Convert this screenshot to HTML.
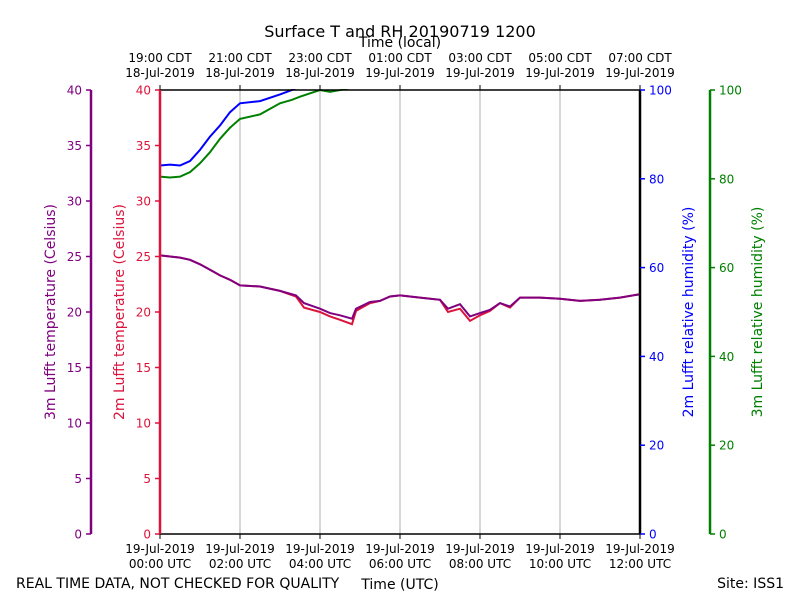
<!DOCTYPE html>
<html><head><meta charset="utf-8"><style>
body{margin:0;background:#fff}
text{font-family:"DejaVu Sans","Liberation Sans",sans-serif;font-size:12px}
</style></head><body>
<svg id="c" width="800" height="600" xmlns="http://www.w3.org/2000/svg">
<defs><clipPath id="pa"><rect x="160" y="89" width="480" height="446"/></clipPath></defs>
<g id="grid"></g><g id="series" clip-path="url(#pa)"></g><g id="axes"></g>
</svg>
<script>
const tT=[0,0.25,0.5,0.75,1,1.25,1.5,1.75,2,2.5,3,3.4,3.6,4,4.25,4.5,4.8,4.9,5.25,5.5,5.75,6,6.5,7,7.2,7.5,7.75,8,8.25,8.5,8.75,9,9.5,10,10.5,11,11.5,12];
const temp3m=[25.1,25.0,24.9,24.7,24.3,23.8,23.3,22.9,22.4,22.3,21.9,21.5,20.8,20.3,19.9,19.7,19.4,20.3,20.9,21.0,21.4,21.5,21.3,21.1,20.3,20.7,19.6,19.9,20.2,20.8,20.5,21.3,21.3,21.2,21.0,21.1,21.3,21.6];
const temp2m=[25.1,25.0,24.9,24.7,24.3,23.8,23.3,22.9,22.4,22.3,21.9,21.4,20.4,20.0,19.6,19.3,18.9,20.1,20.8,21.0,21.4,21.5,21.3,21.1,20.0,20.3,19.2,19.7,20.1,20.8,20.4,21.3,21.3,21.2,21.0,21.1,21.3,21.6];
const tRH=[0,0.25,0.5,0.75,1,1.25,1.5,1.75,2,2.5,3,3.3,3.5,4,4.25,4.5,5,6,8,10,12];
const rh2m=[83,83.2,83,84,86.5,89.5,92,95,97,97.5,99,100,101,102,103,103,104,104,104,104,104];
const rh3m=[80.5,80.3,80.5,81.5,83.5,86,89,91.5,93.5,94.5,97,97.8,98.5,100,99.6,100,101,102,102,102,102];
const tempTicks=[0,5,10,15,20,25,30,35,40];
const rhTicks=[0,20,40,60,80,100];
const utcLabels=["00:00 UTC","02:00 UTC","04:00 UTC","06:00 UTC","08:00 UTC","10:00 UTC","12:00 UTC"];
const cdtLabels=[["19:00 CDT","18-Jul-2019"],["21:00 CDT","18-Jul-2019"],["23:00 CDT","18-Jul-2019"],["01:00 CDT","19-Jul-2019"],["03:00 CDT","19-Jul-2019"],["05:00 CDT","19-Jul-2019"],["07:00 CDT","19-Jul-2019"]];
const X=h=>160+h*40, YT=v=>534-v*11.1, YR=v=>534-v*4.44;
const NS="http://www.w3.org/2000/svg";
function el(p,tag,a,txt){const e=document.createElementNS(NS,tag);for(const k in a)e.setAttribute(k,a[k]);if(txt!==undefined)e.textContent=txt;document.getElementById(p).appendChild(e);return e;}
// grid
for(let i=1;i<6;i++){const g=el('grid','line',{x1:X(i*2),x2:X(i*2),y1:90,y2:534,stroke:'#b0b0b0','stroke-width':1});

}
function line(ts,vs,Y,col,name){const d=ts.map((t,i)=>(i?'L':'M')+X(t).toFixed(1)+','+Y(vs[i]).toFixed(1)).join('');
const p=el('series','path',{d:d,fill:'none',stroke:col,'stroke-width':2});

}
line(tRH,rh3m,YR,'green','rh-3m-line');
line(tRH,rh2m,YR,'blue','rh-2m-line');
line(tT,temp2m,YT,'crimson','temp-2m-line');
line(tT,temp3m,YT,'purple','temp-3m-line');
// frame
el('axes','line',{x1:160,x2:640,y1:90,y2:90,stroke:'#000','stroke-width':1.5});
el('axes','line',{x1:160,x2:640,y1:534,y2:534,stroke:'#000','stroke-width':1.5});
el('axes','line',{x1:160,x2:160,y1:90,y2:534,stroke:'crimson','stroke-width':2.5});
el('axes','line',{x1:640,x2:640,y1:90,y2:534,stroke:'#000','stroke-width':2.5});
el('axes','line',{x1:91,x2:91,y1:90,y2:534,stroke:'purple','stroke-width':2.5});
el('axes','line',{x1:710,x2:710,y1:90,y2:534,stroke:'green','stroke-width':2.5});
tempTicks.forEach(v=>{const y=YT(v);
el('axes','line',{x1:86,x2:91,y1:y,y2:y,stroke:'purple','stroke-width':1.5});
const a=el('axes','text',{x:82,y:y+4.5,'text-anchor':'end',fill:'purple'},v);


el('axes','line',{x1:155,x2:160,y1:y,y2:y,stroke:'crimson','stroke-width':1.5});
const b=el('axes','text',{x:151,y:y+4.5,'text-anchor':'end',fill:'crimson'},v);

});
rhTicks.forEach(v=>{const y=YR(v);
el('axes','line',{x1:640,x2:645,y1:y,y2:y,stroke:'blue','stroke-width':1.5});
const a=el('axes','text',{x:649,y:y+4.5,fill:'blue'},v);


el('axes','line',{x1:710,x2:715,y1:y,y2:y,stroke:'green','stroke-width':1.5});
const b=el('axes','text',{x:719,y:y+4.5,fill:'green'},v);

});
utcLabels.forEach((s,i)=>{const x=X(i*2);
el('axes','line',{x1:x,x2:x,y1:534,y2:539,stroke:'#000'});
const a=el('axes','text',{x:x,y:553,'text-anchor':'middle'},'19-Jul-2019');


const b=el('axes','text',{x:x,y:568,'text-anchor':'middle'},s);

});
cdtLabels.forEach((s,i)=>{const x=X(i*2);
el('axes','line',{x1:x,x2:x,y1:85,y2:90,stroke:'#000'});
const a=el('axes','text',{x:x,y:62,'text-anchor':'middle'},s[0]);


const b=el('axes','text',{x:x,y:77,'text-anchor':'middle'},s[1]);

});
function T(x,y,s,a,name,rot){const e=el('axes','text',Object.assign({x:x,y:y},a),s);if(rot)e.setAttribute('transform','rotate(-90 '+x+' '+y+')');

}
T(400,37,'Surface T and RH 20190719 1200',{'text-anchor':'middle','font-size':'16px',style:'font-size:16px'},'chart-title');
T(400,47,'Time (local)',{'text-anchor':'middle',style:'font-size:14px'},'top-axis-title');
T(400,589,'Time (UTC)',{'text-anchor':'middle',style:'font-size:14px'},'bottom-axis-title');
T(16,588,'REAL TIME DATA, NOT CHECKED FOR QUALITY',{style:'font-size:14px'},'quality-note');
T(784,588,'Site: ISS1',{'text-anchor':'end',style:'font-size:14px'},'site-label');
T(55,312,'3m Lufft temperature (Celsius)',{'text-anchor':'middle',fill:'purple',style:'font-size:14px'},'temp-3m-axis-title',true);
T(124,312,'2m Lufft temperature (Celsius)',{'text-anchor':'middle',fill:'crimson',style:'font-size:14px'},'temp-2m-axis-title',true);
T(693,312,'2m Lufft relative humidity (%)',{'text-anchor':'middle',fill:'blue',style:'font-size:14px'},'rh-2m-axis-title',true);
T(762,312,'3m Lufft relative humidity (%)',{'text-anchor':'middle',fill:'green',style:'font-size:14px'},'rh-3m-axis-title',true);
</script>
</body></html>
